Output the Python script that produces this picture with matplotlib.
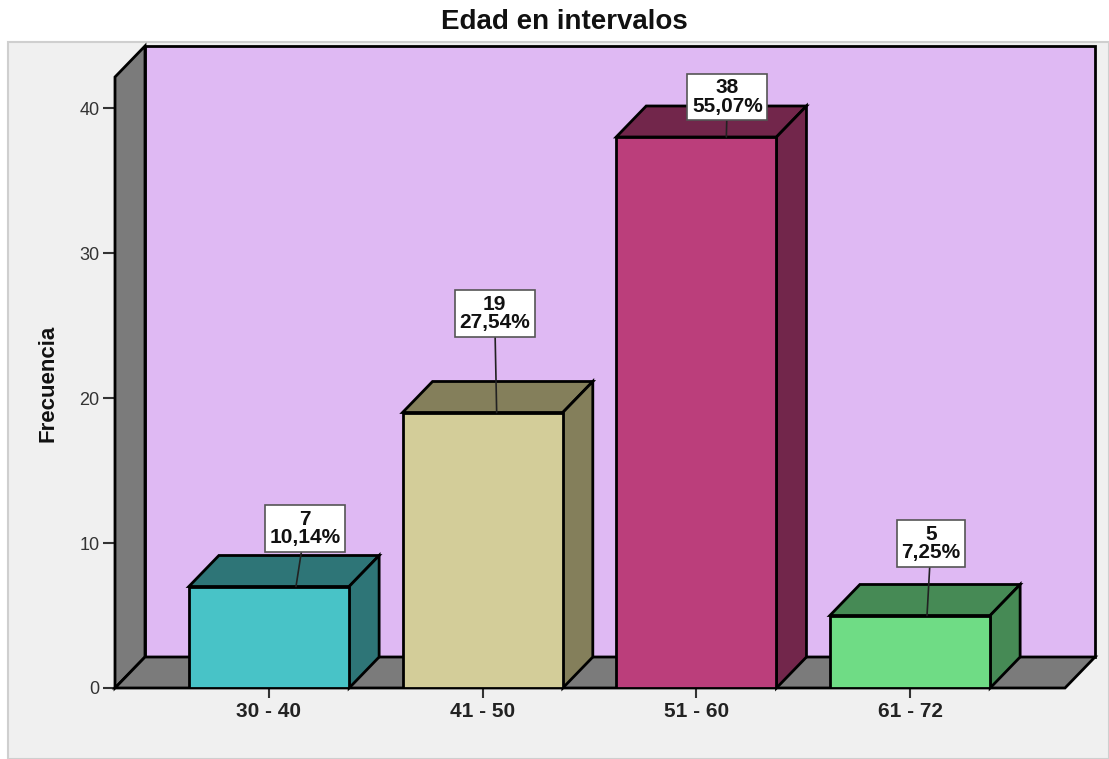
import matplotlib
matplotlib.use("Agg")
import matplotlib.pyplot as plt
from matplotlib.patches import Polygon, Rectangle

plt.rcParams['font.family'] = ['Liberation Sans', 'DejaVu Sans']

# ---- data ----
categories = ["30 - 40", "41 - 50", "51 - 60", "61 - 72"]
counts = [7, 19, 38, 5]
percents = ["10,14%", "27,54%", "55,07%", "7,25%"]
yticks = [0, 10, 20, 30, 40]
title = "Edad en intervalos"
ylabel = "Frecuencia"

# ---- styling ----
front_colors = ["#48c3c7", "#d3cd99", "#bb3e7b", "#6fdc85"]
dark_colors = ["#2e7577", "#847f5b", "#72264b", "#468a55"]
wall_gray = "#7b7b7b"
back_purple = "#dfb9f3"
panel_gray = "#f0f0f0"

# label box placement (pixels): leader x on bar top, box offset from leader end
leader_dx = [27, 14, 30, 17]
box_offset = [(9, 58), (-2, 99), (1, 40), (4, 72)]

W, H = 1109, 759
fig = plt.figure(figsize=(W / 100, H / 100), dpi=100)
fig.patch.set_facecolor("white")

# grey panel behind the chart
fig.patches.append(Rectangle((8 / W, 0), 1 - 8 / W, (H - 42) / H,
                             transform=fig.transFigure, facecolor=panel_gray,
                             edgecolor="#cfcfcf", linewidth=1.5, zorder=-5))

ax_left, ax_right, ax_top, ax_bottom = 115, 1065, 77, 688
ax = fig.add_axes([ax_left / W, (H - ax_bottom) / H,
                   (ax_right - ax_left) / W, (ax_bottom - ax_top) / H])
ax.set_facecolor("none")

n = len(categories)
xpos = list(range(n))
spacing_px = 213.67
xl = (ax_left - 269) / spacing_px
xr = (ax_right - 269) / spacing_px
px_per_y = 14.5
ymax = (ax_bottom - ax_top) / px_per_y
ax.set_xlim(xl, xr)
ax.set_ylim(0, ymax)

# depth of the 3-D effect, converted from pixels into data units
ddx = 30 / spacing_px
ddy = 31 / px_per_y
bar_w = 0.75
lw = 2.0

# back wall, left wall and floor
ax.add_patch(Polygon([(xl + ddx, ddy), (xr + ddx, ddy), (xr + ddx, ymax + ddy),
                      (xl + ddx, ymax + ddy)], closed=True, facecolor=back_purple,
                     edgecolor="black", linewidth=lw, clip_on=False, zorder=1))
ax.add_patch(Polygon([(xl, 0), (xl, ymax), (xl + ddx, ymax + ddy), (xl + ddx, ddy)],
                     closed=True, facecolor=wall_gray, edgecolor="black",
                     linewidth=lw, clip_on=False, zorder=2))
ax.add_patch(Polygon([(xl, 0), (xr, 0), (xr + ddx, ddy), (xl + ddx, ddy)],
                     closed=True, facecolor=wall_gray, edgecolor="black",
                     linewidth=lw, clip_on=False, zorder=2))

# bars
ax.bar(xpos, counts, width=bar_w, color=front_colors, edgecolor="black",
       linewidth=lw, zorder=4)
for x, v, dc in zip(xpos, counts, dark_colors):
    x0, x1 = x - bar_w / 2, x + bar_w / 2
    ax.add_patch(Polygon([(x0, v), (x1, v), (x1 + ddx, v + ddy), (x0 + ddx, v + ddy)],
                         closed=True, facecolor=dc, edgecolor="black",
                         linewidth=lw, zorder=3, clip_on=False))
    ax.add_patch(Polygon([(x1, 0), (x1, v), (x1 + ddx, v + ddy), (x1 + ddx, ddy)],
                         closed=True, facecolor=dc, edgecolor="black",
                         linewidth=lw, zorder=3, clip_on=False))

# value labels
for x, v, p, ldx, (bx, by) in zip(xpos, counts, percents, leader_dx, box_offset):
    ax.annotate(f"{v}\n{p}", xy=(x + ldx / spacing_px, v), xytext=(bx, by),
                textcoords="offset pixels", ha="center", va="center",
                multialignment="center", fontsize=15, fontweight="bold",
                color="#111111", linespacing=0.95, zorder=6,
                bbox=dict(boxstyle="square,pad=0.22", facecolor="white",
                          edgecolor="#555555", linewidth=1.2),
                arrowprops=dict(arrowstyle="-", color="#222222", lw=1.2,
                                shrinkA=0, shrinkB=0),
                annotation_clip=False)

# axes, ticks
for s in ax.spines.values():
    s.set_visible(False)
ax.set_yticks(yticks)
ax.set_yticklabels([str(t) for t in yticks])
ax.set_xticks(xpos)
ax.set_xticklabels(categories)
ax.tick_params(axis="y", length=9, width=1.5, color="#333333", labelsize=13,
               labelcolor="#333333", pad=2)
ax.tick_params(axis="x", length=7, width=1.5, color="#333333", labelsize=15,
               labelcolor="#222222", pad=3)
for lab in ax.get_xticklabels():
    lab.set_fontweight("bold")

fig.text(564 / W, 1 - 22 / H, title, ha="center", va="center",
         fontsize=20, fontweight="bold", color="#111111")
fig.text(48 / W, 1 - 383 / H, ylabel, ha="center", va="center", rotation=90,
         fontsize=16, fontweight="bold", color="#111111")

fig.savefig("out.png", dpi=100)
